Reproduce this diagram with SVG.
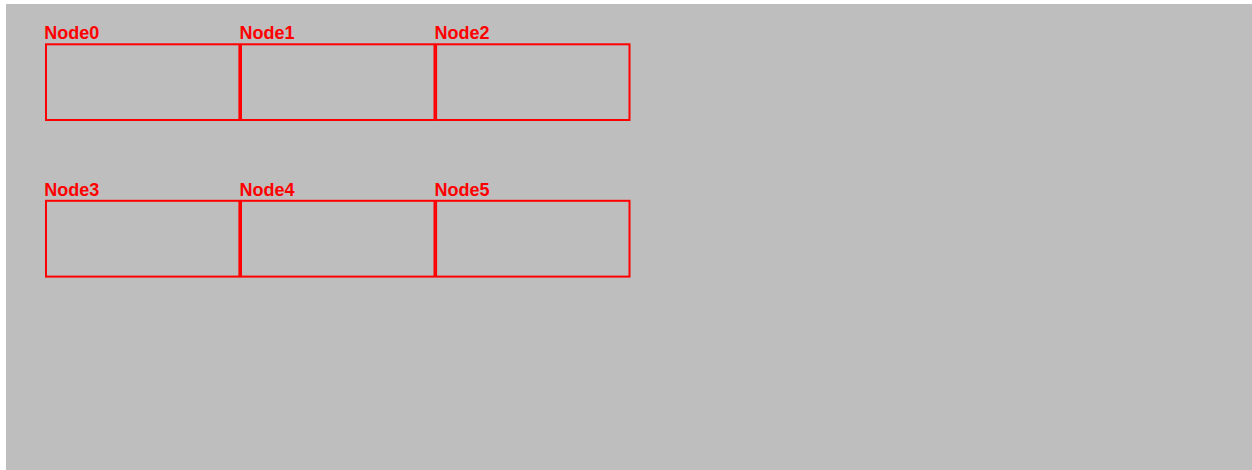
<svg xmlns="http://www.w3.org/2000/svg" width="1252" height="470" viewBox="0 0 1252 470">
<style>
.box{fill:none;stroke:#ff0000;stroke-width:2}
.lbl{font-family:"Liberation Sans",Arial,sans-serif;font-weight:bold;font-size:18px;fill:#ff0000}
</style>
<rect x="0" y="0" width="1252" height="470" fill="#ffffff"/>
<rect x="6" y="4" width="1246" height="466" fill="#bebebe"/>
<g id="node0"><rect class="box" x="46" y="44.3" width="193.4" height="75.7"/><text class="lbl" x="44.3" y="39.3">Node0</text></g>
<g id="node1"><rect class="box" x="241" y="44.3" width="193.5" height="75.7"/><text class="lbl" x="239.5" y="39.3">Node1</text></g>
<g id="node2"><rect class="box" x="436.1" y="44.3" width="193.4" height="75.7"/><text class="lbl" x="434.6" y="39.3">Node2</text></g>
<g id="node3"><rect class="box" x="46" y="200.8" width="193.4" height="75.8"/><text class="lbl" x="44.3" y="195.6">Node3</text></g>
<g id="node4"><rect class="box" x="241" y="200.8" width="193.5" height="75.8"/><text class="lbl" x="239.5" y="195.6">Node4</text></g>
<g id="node5"><rect class="box" x="436.1" y="200.8" width="193.4" height="75.8"/><text class="lbl" x="434.6" y="195.6">Node5</text></g>
<g id="connectors"></g>
</svg>
